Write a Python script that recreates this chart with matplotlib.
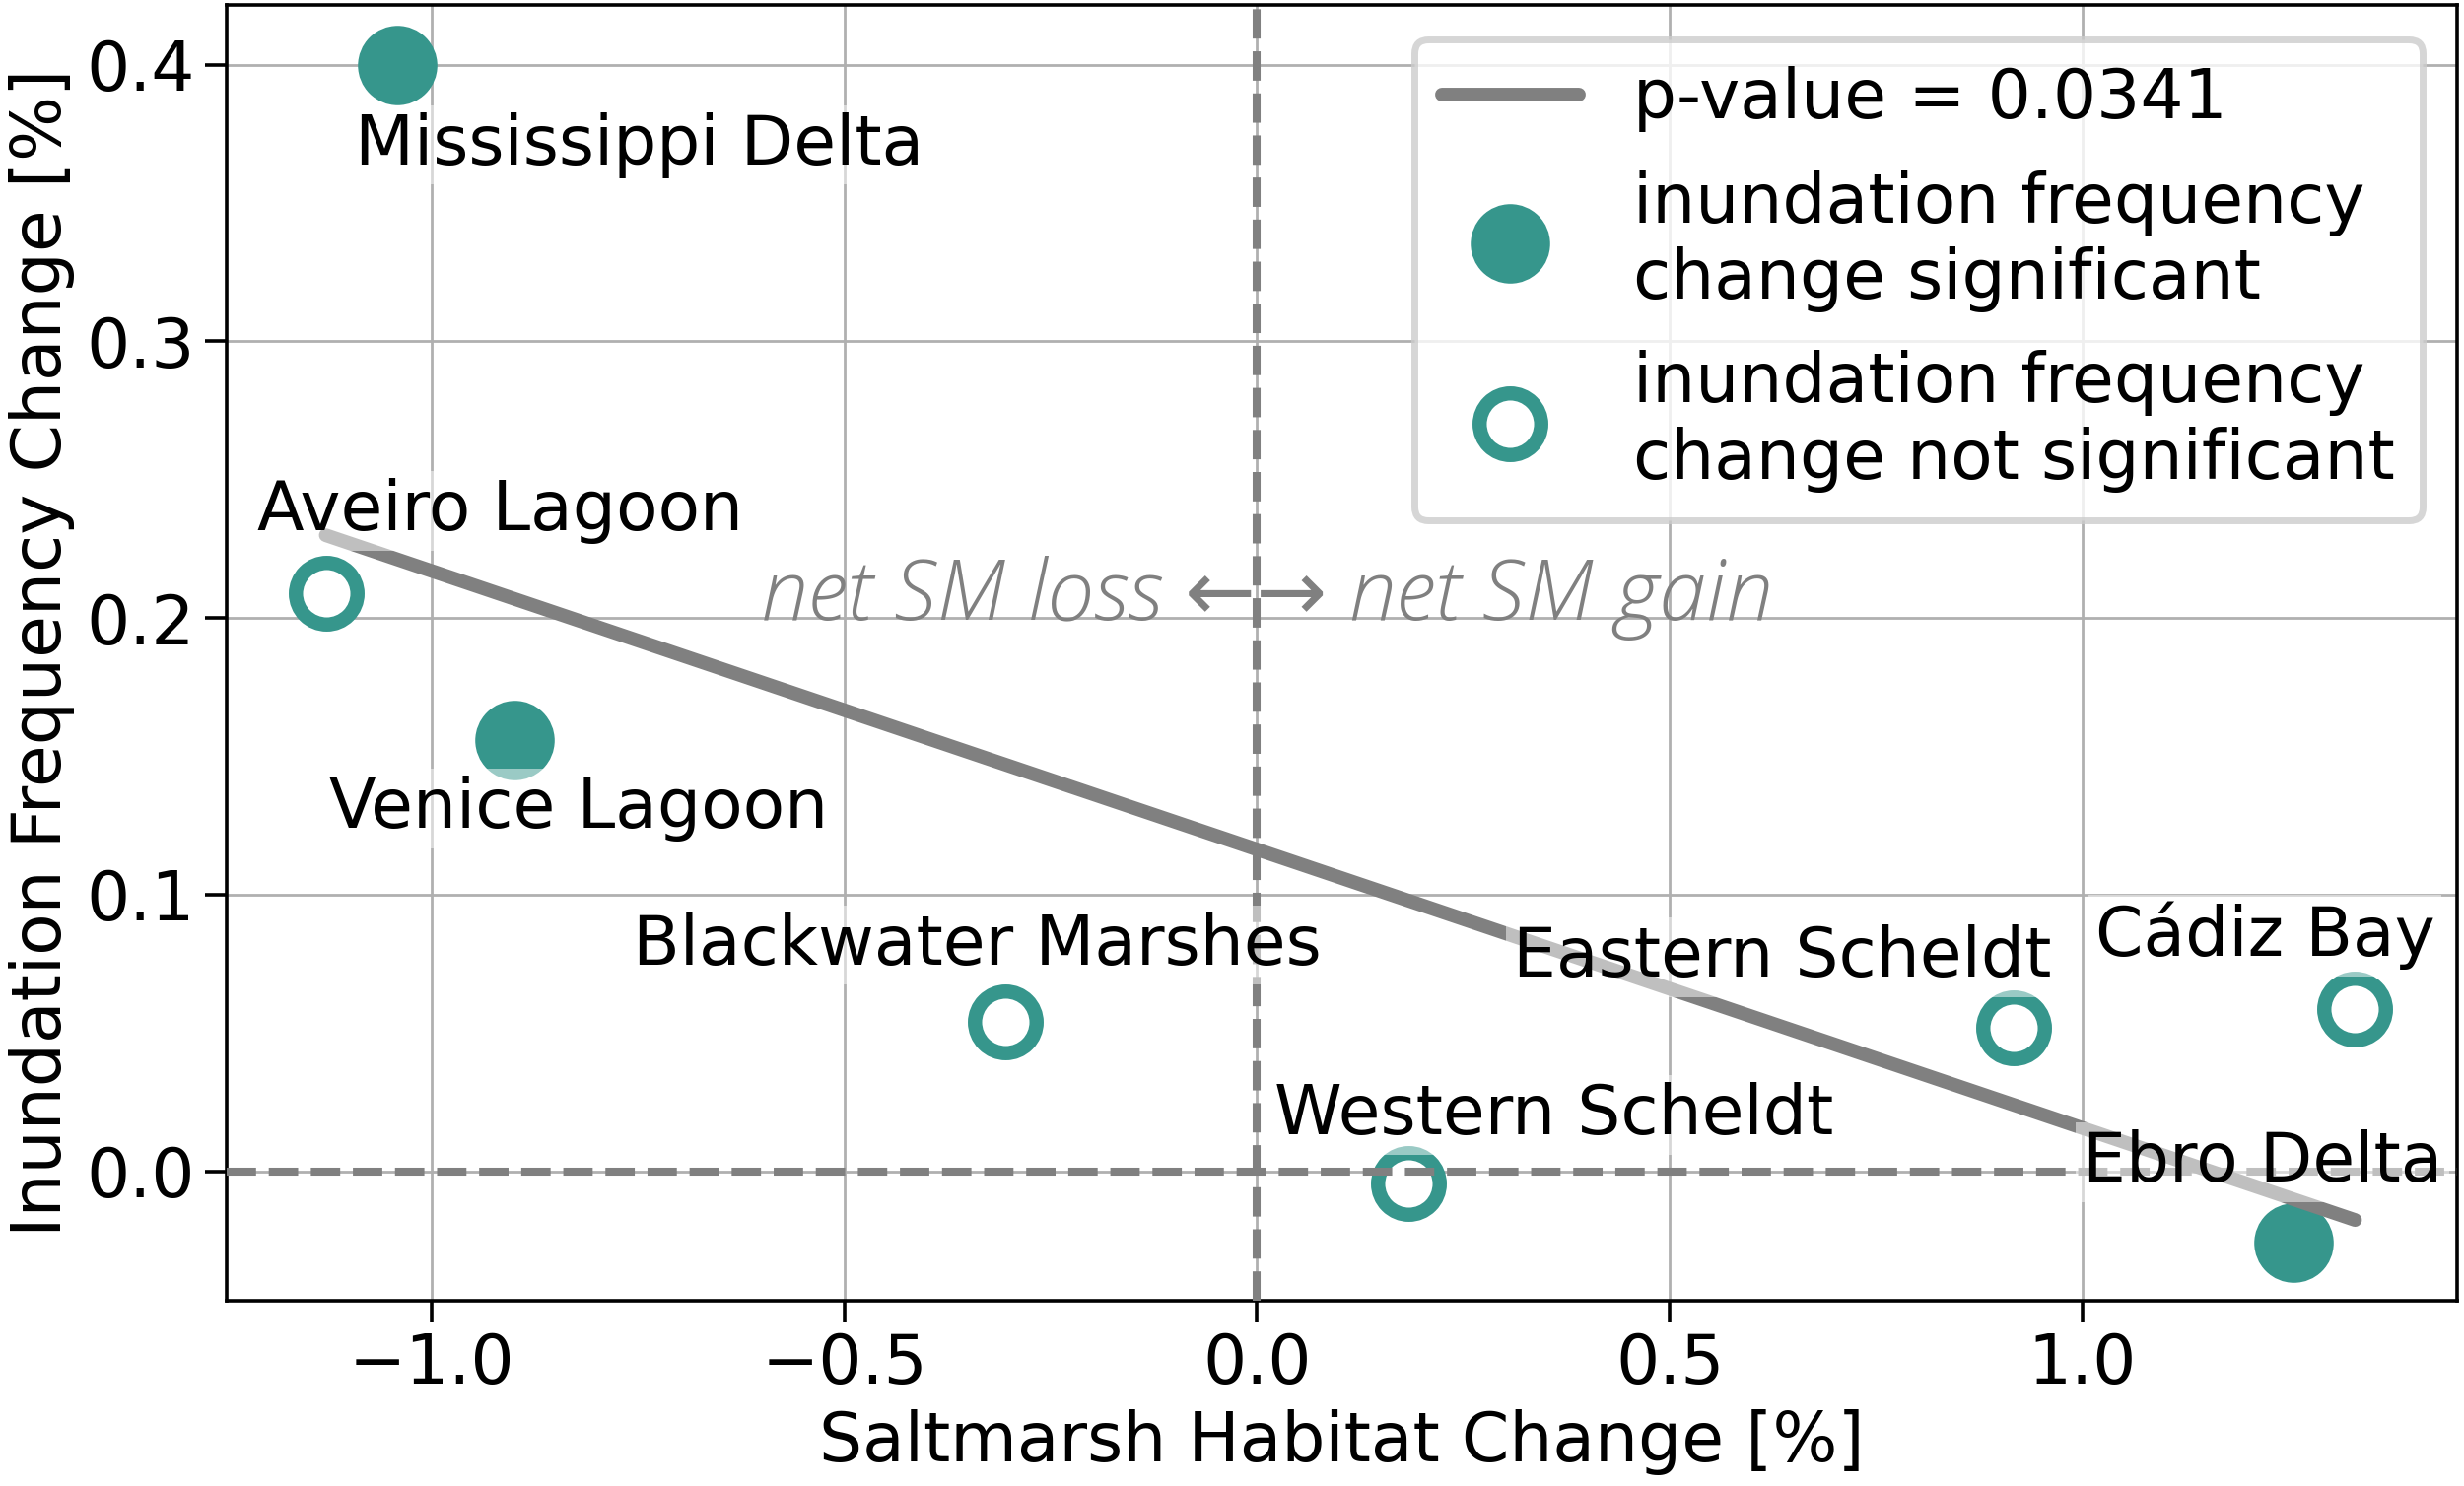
import numpy as np
import matplotlib.pyplot as plt

# data
sites = ['Mississippi Delta', 'Aveiro Lagoon', 'Venice Lagoon', 'Blackwater Marshes',
         'Western Scheldt', 'Eastern Scheldt', 'Cádiz Bay', 'Ebro Delta']
habitat_change = [-1.042, -1.128, -0.899, -0.305, 0.183, 0.916, 1.330, 1.255]
inund_change = [0.400, 0.209, 0.156, 0.054, -0.0045, 0.052, 0.0585, -0.0256]
significant = [True, False, True, False, False, False, False, True]
p_value = 0.0341

# label positions (data coords, left edge / vertical centre)
label_x = [-1.093, -1.211, -1.124, -0.756, 0.021, 0.310, 1.015, 1.000]
label_y = [0.371, 0.2386, 0.131, 0.0818, 0.0205, 0.0773, 0.0852, 0.0034]

teal = '#36968c'
plt.rcParams['font.family'] = 'DejaVu Sans'
plt.rcParams['font.size'] = 25

fig, ax = plt.subplots(figsize=(12.5, 7.54), dpi=200)
plt.subplots_adjust(left=0.092, right=0.997, bottom=0.125, top=0.9967)

ax.grid(True, color='#b0b0b0', lw=1.0, zorder=0)
ax.set_axisbelow(True)

x = np.array(habitat_change)
y = np.array(inund_change)
sig = np.array(significant)

# regression line
k, b = np.polyfit(x, y, 1)
xl = np.array([x.min(), x.max()])
ax.plot(xl, k * xl + b, color='grey', lw=5, solid_capstyle='round', zorder=4,
        label='p-value = %.4f' % p_value)

ax.plot(x[sig], y[sig], 'o', ms=28, color=teal, mec=teal, zorder=2,
        label='inundation frequency\nchange significant')
ax.plot(x[~sig], y[~sig], 'o', ms=22.5, mfc='white', mec=teal, mew=5.2, zorder=2,
        label='inundation frequency\nchange not significant')

ax.axvline(0, color='grey', lw=2.9, ls='--', zorder=3)
ax.axhline(0, color='grey', lw=2.9, ls='--', zorder=3)

for name, tx, ty in zip(sites, label_x, label_y):
    ax.text(tx, ty, name, ha='left', va='center', zorder=5,
            bbox=dict(boxstyle='square,pad=0.1', fc='white', ec='none', alpha=0.5))

ax.text(0.012, 0.207, 'net SM loss \u2190\u2192 net SM gain', ha='center', va='center',
        color='grey', fontsize=31, style='italic', family=['Open Sans', 'DejaVu Sans'],
        weight='light', zorder=5)

ax.set_xlim(-1.248, 1.453)
ax.set_ylim(-0.0466, 0.4216)
ax.set_xticks([-1.0, -0.5, 0.0, 0.5, 1.0])
ax.set_yticks([0.0, 0.1, 0.2, 0.3, 0.4])
for s in ax.spines.values():
    s.set_linewidth(1.3)
ax.tick_params(width=1.3, length=8)

ax.set_xlabel('Saltmarsh Habitat Change [%]')
ax.set_ylabel('Inundation Frequency Change [%]')

leg = ax.legend(loc='upper right', framealpha=0.8, edgecolor='#cccccc',
                labelspacing=0.55, borderpad=0.4)
leg.get_frame().set_linewidth(2.5)

plt.savefig('out.png', dpi=200)
